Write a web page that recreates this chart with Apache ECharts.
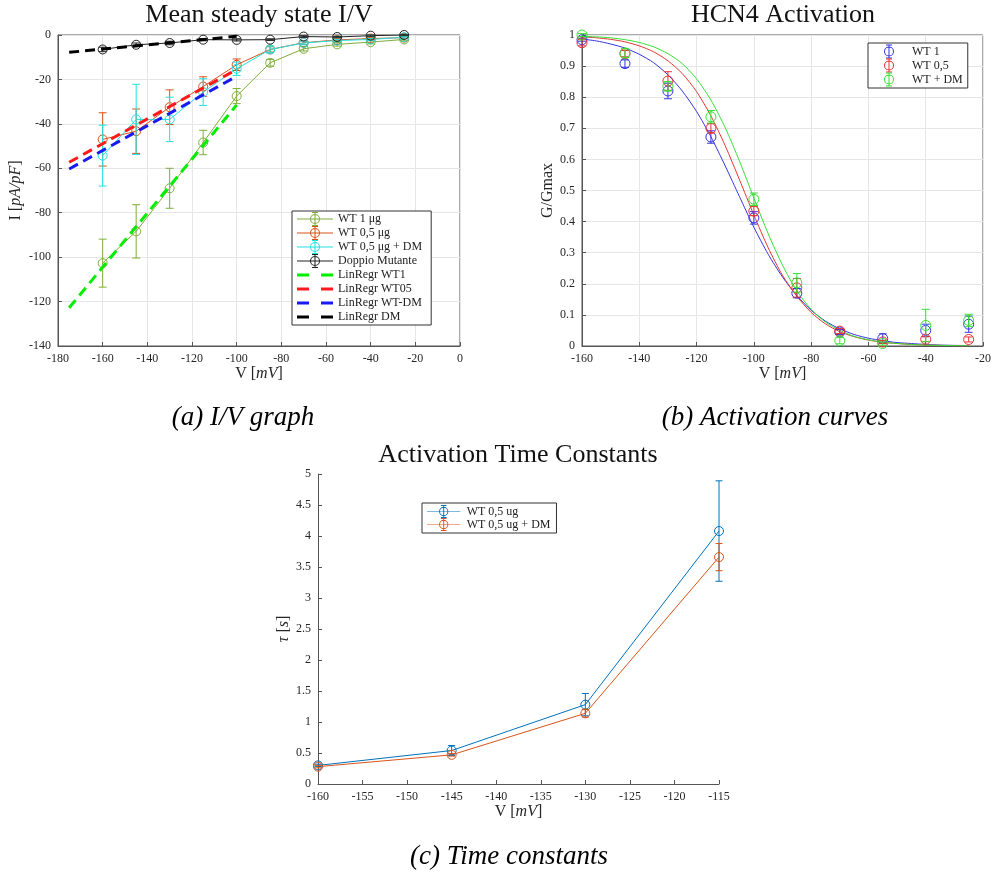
<!DOCTYPE html>
<html>
<head>
<meta charset="utf-8">
<script src="https://cdn.jsdelivr.net/npm/echarts@6/dist/echarts.min.js"></script>
<style>
html,body{margin:0;padding:0;background:#fff;}
#chart{width:994px;height:872px;}
</style>
</head>
<body>
<div id="chart"></div>
<script>
// ---------- DATA ----------
// shared voltage steps (mV)
const V = [-160, -145, -130, -115, -100, -85, -70, -55, -40, -25];

// (a) Mean steady state I/V  (pA/pF)
const ivWT1 = [-102.7, -88.4, -69, -48.4, -27.5, -12.5, -6.2, -4.2, -3.2, -2];
const ivWT1Err = [10.8, 12, 9, 5.5, 3.4, 1.5, 1, 0.8, 0.8, 0.6];
const ivWT05 = [-47, -43.3, -32.5, -23.2, -13.4, -6.5, -3.5, -2.2, -1.6, -1.2];
const ivWT05Err = [12, 10, 7.8, 4.4, 2.6, 1.2, 0.8, 0.5, 0.5, 0.4];
const ivWTDM = [-54.3, -38, -38, -25.7, -15.2, -6.5, -3.6, -2.5, -2, -1];
const ivWTDMErr = [13.7, 15.8, 10, 6, 3, 1.5, 0.8, 0.5, 0.5, 0.4];
const ivDM = [-6.5, -4.4, -3.6, -2.1, -2.2, -2.1, -0.7, -0.9, -0.3, 0];
const ivDMErr = [1, 0.8, 0.8, 0.5, 0.5, 0.4, 0.4, 0.3, 0.3, 0.3];
// linear regressions: endpoints [V, I]
const regV = [-175, -100];
const regWT1 = [-122.8, -31.5];
const regWT05 = [-57.3, -15.5];
const regWTDM = [-60.3, -18.6];
const regDM = [-7.8, -0.6];

// (b) HCN4 Activation  (G/Gmax)
const actWT1 = [0.985, 0.908, 0.82, 0.672, 0.412, 0.17, 0.045, 0.024, 0.05, 0.07];
const actWT1Err = [0.005, 0.012, 0.025, 0.02, 0.02, 0.015, 0.008, 0.015, 0.02, 0.026];
const actWT05 = [0.975, 0.94, 0.852, 0.70, 0.434, 0.187, 0.048, 0.013, 0.022, 0.021];
const actWT05Err = [0.01, 0.01, 0.03, 0.015, 0.015, 0.03, 0.008, 0.005, 0.008, 0.008];
const actWTDM = [1.0, 0.942, 0.835, 0.737, 0.472, 0.203, 0.017, 0.008, 0.066, 0.082];
const actWTDMErr = [0.005, 0.015, 0.015, 0.02, 0.02, 0.03, 0.01, 0.005, 0.052, 0.02];
// fitted curves, every 5 mV
const curveV = [-160, -155, -150, -145, -140, -135, -130, -125, -120, -115, -110, -105, -100, -95, -90, -85, -80, -75, -70, -65, -60, -55, -50, -45, -40, -35, -30, -25];
const fitWT1 = [0.987, 0.981, 0.971, 0.958, 0.938, 0.911, 0.872, 0.82, 0.754, 0.673, 0.579, 0.48, 0.382, 0.295, 0.222, 0.162, 0.115, 0.08, 0.055, 0.037, 0.025, 0.017, 0.011, 0.008, 0.005, 0.003, 0.002, 0.0015];
const fitWT05 = [0.994, 0.991, 0.986, 0.978, 0.965, 0.946, 0.917, 0.876, 0.818, 0.74, 0.644, 0.534, 0.421, 0.316, 0.227, 0.16, 0.108, 0.071, 0.046, 0.03, 0.019, 0.012, 0.008, 0.005, 0.003, 0.002, 0.0013, 0.0008];
const fitWTDM = [0.996, 0.994, 0.991, 0.985, 0.976, 0.962, 0.94, 0.908, 0.859, 0.791, 0.702, 0.594, 0.476, 0.361, 0.26, 0.177, 0.118, 0.077, 0.05, 0.031, 0.02, 0.012, 0.008, 0.005, 0.003, 0.0019, 0.0012, 0.0007];

// (c) Activation Time Constants (s)
const tauV = [-160, -145, -130, -115];
const tauWT05 = [0.30, 0.54, 1.28, 4.08];
const tauWT05Err = [0.02, 0.08, 0.18, 0.81];
const tauWTDM = [0.28, 0.47, 1.14, 3.66];
const tauWTDMErr = [0.02, 0.02, 0.06, 0.22];

// tick settings
const ivXTicks = {min: -180, max: 0, interval: 20};
const ivYTicks = {min: -140, max: 0, interval: 20};
const actXTicks = {min: -160, max: -20, interval: 20};
const actYTicks = {min: 0, max: 1, interval: 0.1};
const tauXTicks = {min: -160, max: -115, interval: 5};
const tauYTicks = {min: 0, max: 5, interval: 0.5};

// ---------- STYLE ----------
const FONT = '"Liberation Serif", "Times New Roman", serif';
const TXT = '#262626';
const AX = '#555555';
const GRIDC = '#e6e6e6';

const C = {
  wt1: '#7fae3c', wt05: '#d95319', wtdm: '#22e0e0', dm: '#222222',
  rg: '#00ee00', rr: '#ff1a1a', rb: '#1a1aee', rk: '#000000',
  bB: '#3535e0', bR: '#e53535', bG: '#35e035',
  cB: '#0072BD', cO: '#D95319'
};

// legend icon shapes (filled paths in a 36x14 box)
const RING = 'M13,7 A5,5 0 1,1 23,7 A5,5 0 1,1 13,7 Z M14,7 A4,4 0 1,0 22,7 A4,4 0 1,0 14,7 Z ';
const BAR = 'M17.5,0 L18.5,0 L18.5,14 L17.5,14 Z M15,0 L21,0 L21,1 L15,1 Z M15,13 L21,13 L21,14 L15,14 Z ';
const LINE = 'M0,6.6 L36,6.6 L36,7.4 L0,7.4 Z ';
const ICON_LINE_ERR = 'path://' + LINE + RING + BAR;
const ICON_ERR = 'path://' + RING + BAR;
const ICON_DASH = 'path://M0,5.5 L12,5.5 L12,8.5 L0,8.5 Z M24,5.5 L36,5.5 L36,8.5 L24,8.5 Z';

function pairs(xs, ys) { return xs.map((x, i) => [x, ys[i]]); }

// error bars + hollow circle marker, positioned through the axes
function errSeries(idx, xs, vals, errs, color, half, r, name) {
  const s = {
    type: 'custom', xAxisIndex: idx, yAxisIndex: idx, silent: true, z: 5,
    itemStyle: {color: color},
    data: xs.map((x, i) => [x, vals[i], errs[i]]),
    encode: {x: 0, y: 1},
    renderItem: function (params, api) {
      const x = api.value(0), y = api.value(1), e = api.value(2);
      const t = api.coord([x, y + e]), b = api.coord([x, y - e]), c = api.coord([x, y]);
      const st = {stroke: color, lineWidth: 1, fill: null};
      return {type: 'group', children: [
        {type: 'line', shape: {x1: t[0], y1: t[1], x2: b[0], y2: b[1]}, style: st},
        {type: 'line', shape: {x1: t[0] - half, y1: t[1], x2: t[0] + half, y2: t[1]}, style: st},
        {type: 'line', shape: {x1: b[0] - half, y1: b[1], x2: b[0] + half, y2: b[1]}, style: st},
        {type: 'circle', shape: {cx: c[0], cy: c[1], r: r}, style: {stroke: color, lineWidth: 1, fill: 'none'}}
      ]};
    }
  };
  if (name) s.name = name;
  return s;
}

function lineSeries(idx, name, xs, ys, color, width, dash, z) {
  const s = {type: 'line', xAxisIndex: idx, yAxisIndex: idx, data: pairs(xs, ys), symbol: 'none', showSymbol: false,
    lineStyle: {color: color, width: width, type: dash || 'solid'}, itemStyle: {color: color}, z: z || 3, silent: true};
  if (name) s.name = name;
  return s;
}

function valueAxis(idx, ticks, opts) {
  return Object.assign({
    type: 'value', gridIndex: idx, min: ticks.min, max: ticks.max, interval: ticks.interval,
    axisLine: {show: true, onZero: false, lineStyle: {color: AX, width: 1}},
    axisTick: {show: true, inside: true, length: 4, lineStyle: {color: AX}},
    axisLabel: {fontFamily: FONT, fontSize: 12, color: TXT, margin: 7},
    splitLine: {show: true, lineStyle: {color: GRIDC, width: 1}},
    nameLocation: 'middle',
    nameTextStyle: {fontFamily: FONT, fontSize: 16, color: TXT,
      rich: {i: {fontFamily: FONT, fontSize: 16, fontStyle: 'italic', color: TXT},
             r: {fontFamily: FONT, fontSize: 16, color: TXT}}}
  }, opts || {});
}

const legendCommon = {
  orient: 'vertical', selectedMode: false, symbolKeepAspect: true,
  backgroundColor: '#ffffff', borderColor: '#333333', borderWidth: 1,
  itemWidth: 36, itemHeight: 14, itemGap: 0,
  textStyle: {fontFamily: FONT, fontSize: 12, color: '#222', lineHeight: 14}
};

const series = [
  // (a)
  lineSeries(0, 'WT 1 μg', V, ivWT1, C.wt1, 1),
  lineSeries(0, 'WT 0,5 μg', V, ivWT05, C.wt05, 1),
  lineSeries(0, 'WT 0,5 μg + DM', V, ivWTDM, C.wtdm, 1),
  lineSeries(0, 'Doppio Mutante', V, ivDM, C.dm, 1),
  errSeries(0, V, ivWT1, ivWT1Err, C.wt1, 4, 4.5),
  errSeries(0, V, ivWT05, ivWT05Err, C.wt05, 4, 4.5),
  errSeries(0, V, ivWTDM, ivWTDMErr, C.wtdm, 4, 4.5),
  errSeries(0, V, ivDM, ivDMErr, C.dm, 4, 4.5),
  lineSeries(0, 'LinRegr WT1', regV, regWT1, C.rg, 3, [10, 6], 6),
  lineSeries(0, 'LinRegr WT05', regV, regWT05, C.rr, 3, [10, 6], 6),
  lineSeries(0, 'LinRegr WT-DM', regV, regWTDM, C.rb, 3, [10, 6], 6),
  lineSeries(0, 'LinRegr DM', regV, regDM, C.rk, 3, [10, 6], 6),

  // (b)
  Object.assign(lineSeries(1, null, curveV, fitWT1, C.bB, 1), {smooth: 0.25}),
  Object.assign(lineSeries(1, null, curveV, fitWT05, C.bR, 1), {smooth: 0.25}),
  Object.assign(lineSeries(1, null, curveV, fitWTDM, C.bG, 1), {smooth: 0.25}),
  errSeries(1, V, actWT1, actWT1Err, C.bB, 4, 5, 'WT 1'),
  errSeries(1, V, actWT05, actWT05Err, C.bR, 4, 5, 'WT 0,5'),
  errSeries(1, V, actWTDM, actWTDMErr, C.bG, 4, 5, 'WT + DM'),

  // (c)
  lineSeries(2, 'WT 0,5 ug', tauV, tauWT05, C.cB, 1),
  lineSeries(2, 'WT 0,5 ug + DM', tauV, tauWTDM, C.cO, 1),
  errSeries(2, tauV, tauWT05, tauWT05Err, C.cB, 3.5, 4.5),
  errSeries(2, tauV, tauWTDM, tauWTDMErr, C.cO, 3.5, 4.5)
];

const option = {
  animation: false,
  backgroundColor: '#ffffff',
  grid: [
    {left: 58, top: 35, width: 402, height: 311, show: true, borderColor: AX, borderWidth: 1, backgroundColor: 'transparent'},
    {left: 582, top: 35, width: 402, height: 311, show: true, borderColor: AX, borderWidth: 1, backgroundColor: 'transparent'},
    {left: 318, top: 474, width: 401, height: 310}
  ],
  xAxis: [
    valueAxis(0, ivXTicks, {name: '{r|V [}{i|mV}{r|]}', nameGap: 20}),
    valueAxis(1, actXTicks, {name: '{r|V [}{i|mV}{r|]}', nameGap: 20}),
    valueAxis(2, tauXTicks, {name: '{r|V [}{i|mV}{r|]}', nameGap: 20, splitLine: {show: false}})
  ],
  yAxis: [
    valueAxis(0, ivYTicks, {name: '{r|I [}{i|pA/pF}{r|]}', nameGap: 34}),
    valueAxis(1, actYTicks, {name: 'G/Gmax', nameGap: 26}),
    valueAxis(2, tauYTicks, {name: '{i|τ} {r|[}{i|s}{r|]}', nameGap: 26, splitLine: {show: false}})
  ],
  legend: [
    Object.assign({}, legendCommon, {left: 292, top: 211, padding: [1, 9, 1, 5],
      data: [
        {name: 'WT 1 μg', icon: ICON_LINE_ERR},
        {name: 'WT 0,5 μg', icon: ICON_LINE_ERR},
        {name: 'WT 0,5 μg + DM', icon: ICON_LINE_ERR},
        {name: 'Doppio Mutante', icon: ICON_LINE_ERR},
        {name: 'LinRegr WT1', icon: ICON_DASH},
        {name: 'LinRegr WT05', icon: ICON_DASH},
        {name: 'LinRegr WT-DM', icon: ICON_DASH},
        {name: 'LinRegr DM', icon: ICON_DASH}
      ]}),
    Object.assign({}, legendCommon, {left: 868, top: 43, padding: [1.5, 5, 1.5, 16],
      data: [
        {name: 'WT 1', icon: ICON_ERR},
        {name: 'WT 0,5', icon: ICON_ERR},
        {name: 'WT + DM', icon: ICON_ERR}
      ]}),
    Object.assign({}, legendCommon, {left: 422, top: 503, padding: [2, 6, 2, 5], itemHeight: 13,
      textStyle: {fontFamily: FONT, fontSize: 12, color: '#222', lineHeight: 13},
      data: [
        {name: 'WT 0,5 ug', icon: ICON_LINE_ERR},
        {name: 'WT 0,5 ug + DM', icon: ICON_LINE_ERR}
      ]})
  ],
  graphic: [
    {type: 'text', x: 259, y: 15, style: {text: 'Mean steady state I/V', font: '26px ' + FONT, fill: '#111', textAlign: 'center', textVerticalAlign: 'middle'}},
    {type: 'text', x: 783, y: 15, style: {text: 'HCN4 Activation', font: '26px ' + FONT, fill: '#111', textAlign: 'center', textVerticalAlign: 'middle'}},
    {type: 'text', x: 518, y: 455, style: {text: 'Activation Time Constants', font: '26px ' + FONT, fill: '#111', textAlign: 'center', textVerticalAlign: 'middle'}},
    {type: 'text', x: 243, y: 418, style: {text: '(a) I/V graph', font: 'italic 27px ' + FONT, fill: '#000', textAlign: 'center', textVerticalAlign: 'middle'}},
    {type: 'text', x: 775, y: 418, style: {text: '(b) Activation curves', font: 'italic 27px ' + FONT, fill: '#000', textAlign: 'center', textVerticalAlign: 'middle'}},
    {type: 'text', x: 509, y: 857, style: {text: '(c) Time constants', font: 'italic 27px ' + FONT, fill: '#000', textAlign: 'center', textVerticalAlign: 'middle'}}
  ],
  series: series
};

const chart = echarts.init(document.getElementById('chart'), null, {renderer: 'canvas'});
chart.setOption(option);
</script>
</body>
</html>
